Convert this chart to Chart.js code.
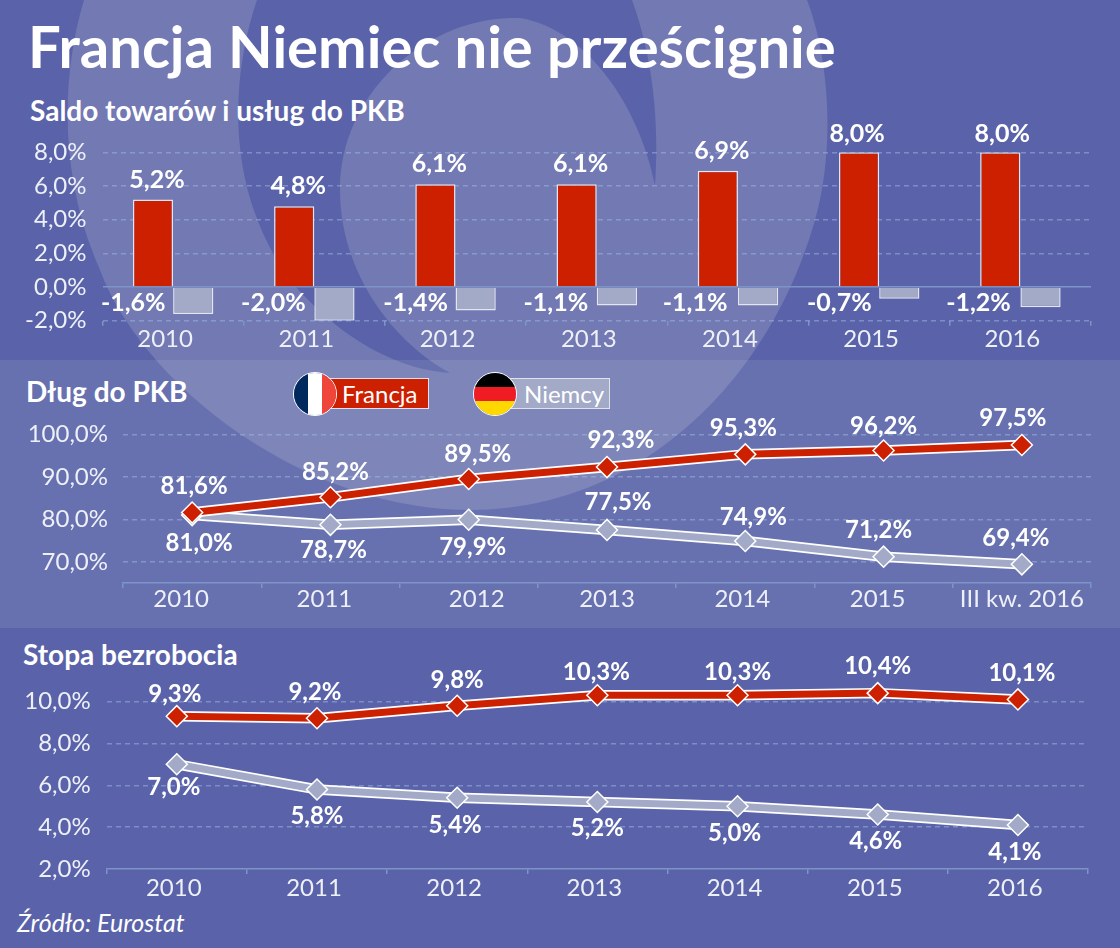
<!DOCTYPE html>
<html lang="pl"><head><meta charset="utf-8">
<script src="https://cdn.jsdelivr.net/npm/chart.js@4"></script>
<style>
html,body{margin:0;padding:0;background:#5A63A9;overflow:hidden}
#page{position:relative;width:1120px;height:948px;overflow:hidden;font-family:Lato,sans-serif;color:#fff}
#bg{position:absolute;left:0;top:0}
canvas{position:absolute;left:0}
.t{position:absolute;white-space:nowrap;line-height:1}
.box{position:absolute;top:378px;height:29px;border:1px solid #dfe2ee;font-size:24px;line-height:29px;box-sizing:content-box}
.flag{position:absolute;top:372px;width:42px;height:42px;border-radius:50%;border:1.5px solid #fff;overflow:hidden;display:flex}
.flag.h{flex-direction:column}
.flag i{display:block;flex:1}
</style></head><body>
<div id="page">
<svg id="bg" width="1120" height="948" viewBox="0 0 1120 948">
<rect width="1120" height="948" fill="#5A63A9"/>
<path fill="#7279B3" d="M84,0 C60,80 60,180 100,270 C140,380 300,510 470,510 C640,510 770,380 815,220 C835,150 830,60 807,0 Z"/>
<path fill="#5A63A9" d="M257,0 C230,80 225,190 290,280 C340,340 400,370 450,373 C390,340 340,270 340,190 C340,90 430,15 520,18 C590,30 640,110 655,185 C660,110 650,50 632,0 Z"/>
<rect y="360" width="1120" height="268" fill="#fff" fill-opacity="0.09"/>
</svg>
<div class="t" style="left:28px;top:17px;font-size:58px;font-weight:700">Francja Niemiec nie prześcignie</div>
<div class="t" style="left:30px;top:96px;font-size:28px;font-weight:700">Saldo towarów i usług do PKB</div>
<div class="t" style="left:26px;top:377px;font-size:28px;font-weight:700">Dług do PKB</div>
<div class="t" style="left:23px;top:640px;font-size:28px;font-weight:700">Stopa bezrobocia</div>
<div class="t" style="left:17px;top:910px;font-size:25px;font-style:italic">Źródło: Eurostat</div>
<div class="box" id="lgF" style="left:325px;width:102px;background:#CC2000;padding-left:0"><span style="margin-left:16px"></span></div>
<div class="flag" style="left:293px"><i style="background:#002A5E"></i><i style="background:#fff"></i><i style="background:#F0453A"></i></div>
<div class="box" id="lgD" style="left:505px;width:103px;background:#A2AAC7"><span style="margin-left:18px"></span></div>
<div class="flag h" style="left:473px"><i style="background:#000"></i><i style="background:#EF1C24"></i><i style="background:#FFD800"></i></div>
<canvas id="c1" width="1120" height="260" style="top:100px"></canvas>
<canvas id="c2" width="1120" height="220" style="top:405px"></canvas>
<canvas id="c3" width="1120" height="255" style="top:650px"></canvas>
</div>
<script>
const seriesNames = ['Francja', 'Niemcy'];
const years = ['2010','2011','2012','2013','2014','2015','2016'];
const debtPeriods = ['2010','2011','2012','2013','2014','2015','III kw. 2016'];

const balanceFrance = [5.2, 4.8, 6.1, 6.1, 6.9, 8.0, 8.0];
const balanceGermany = [-1.6, -2.0, -1.4, -1.1, -1.1, -0.7, -1.2];
const debtFrance = [81.6, 85.2, 89.5, 92.3, 95.3, 96.2, 97.5];
const debtGermany = [81.0, 78.7, 79.9, 77.5, 74.9, 71.2, 69.4];
const unempFrance = [9.3, 9.2, 9.8, 10.3, 10.3, 10.4, 10.1];
const unempGermany = [7.0, 5.8, 5.4, 5.2, 5.0, 4.6, 4.1];

const RED='#CC2000', GREY='#A2AAC7', TICK='#EEF0F8';
const GRID='rgba(165,195,235,0.45)', AXIS='#7C94C8';
const pct = v => v.toFixed(1).replace('.',',')+'%';
document.querySelector('#lgF span').textContent = seriesNames[0];
document.querySelector('#lgD span').textContent = seriesNames[1];

/* value labels: one offset pair per point */
const valueLabels = {
  id:'valueLabels',
  afterDatasetsDraw(chart,_,o){
    const ctx=chart.ctx;
    ctx.save();
    ctx.fillStyle='#fff'; ctx.font='700 '+(o.size||24)+'px Lato'; ctx.textAlign='center'; ctx.textBaseline='middle';
    o.sets.forEach((s,d)=>{
      const pts=chart.getDatasetMeta(d).data, vals=chart.data.datasets[d].data;
      pts.forEach((p,i)=>{
        const x=p.x+s.dx[i];
        const y=s.fromBase? chart.scales.y.getPixelForValue(0)+s.dy[i] : p.y+s.dy[i];
        ctx.fillText(pct(vals[i]),x,y);
      });
    });
    ctx.restore();
  }
};
/* white casing under each line */
const casing = {
  id:'casing',
  beforeDatasetDraw(chart,args,o){
    if(!o.width) return;
    const pts=args.meta.data, ctx=chart.ctx;
    ctx.save();
    ctx.strokeStyle=o.color; ctx.lineWidth=o.width; ctx.lineJoin='round';
    ctx.beginPath();
    pts.forEach((p,i)=> i? ctx.lineTo(p.x,p.y):ctx.moveTo(p.x,p.y));
    ctx.stroke();
    ctx.restore();
  }
};
/* per-label horizontal nudges of the category labels */
const labelNudge = {
  id:'labelNudge',
  beforeDraw(chart,_,o){
    if(!o.dx || chart.$nudged) return;
    chart.scales.x.getLabelItems(chart.chartArea).forEach((it,i)=>{ it.options.translation[0]+=o.dx[i]; });
    chart.$nudged=true;
  }
};

function baseOptions(a,yo,xo,plug){
  const h=a.h;
  return {
    responsive:false, animation:false, devicePixelRatio:1,
    events:[],
    layout:{padding:{top:a.top-a.canvasTop,right:1120-a.right,left:0,bottom:0}},
    plugins:{legend:{display:false},tooltip:{enabled:false},title:{display:false},...plug},
    scales:{
      x:{
        type:'category', offset:true,
        afterFit(s){ s.height=h-(a.bottom-a.canvasTop); },
        grid:{display:true,offset:true,drawOnChartArea:false,drawTicks:true,tickLength:5,color:AXIS,lineWidth:1.5},
        border:xo.border,
        ticks:{color:TICK,font:{family:'Lato',size:24},padding:xo.padding,labelOffset:xo.labelOffset||0,autoSkip:false,maxRotation:0}
      },
      y:{
        min:yo.min,max:yo.max,
        afterFit(s){ s.width=a.left; },
        afterBuildTicks(s){ s.ticks=yo.values.map(value=>({value})); },
        grid:{drawTicks:false,lineWidth:1.5,color:yo.gridColor||GRID},
        border:{display:false,dash:yo.dash||[5,4]},
        ticks:{stepSize:yo.step,color:TICK,font:{family:'Lato',size:24},padding:yo.padding,callback:v=>pct(v)}
      }
    }
  };
}
function lineSet(data,color){
  return {data,borderColor:color,borderWidth:7,tension:0,clip:false,pointStyle:'rectRot',pointRadius:10.5,
    pointBackgroundColor:color,pointBorderColor:'#fff',pointBorderWidth:1.5};
}

new Chart('c1',{
  type:'bar',
  data:{labels:years,datasets:[
    {data:balanceFrance,backgroundColor:RED,borderColor:'#E3E5F0',borderWidth:1.5,borderSkipped:'start',categoryPercentage:0.57,barPercentage:1},
    {data:balanceGermany,backgroundColor:GREY,borderColor:'#E3E5F0',borderWidth:1.5,borderSkipped:'start',categoryPercentage:0.57,barPercentage:1}
  ]},
  plugins:[valueLabels],
  options:baseOptions(
    {canvasTop:100,h:260,top:152.3,bottom:320.7,left:102.5,right:1091},
    {min:-2,max:8,step:2,values:[-2,0,2,4,6,8],padding:16,
     gridColor:c=>c.tick&&c.tick.value===0?AXIS:GRID,
     dash:c=>c.tick&&c.tick.value===0?[]:[5,4]},
    {border:{display:false},padding:-1,labelOffset:-8},
    {valueLabels:{size:25,sets:[
      {dx:[4,4,4,4,4,-2,2],dy:[-20,-20,-20,-20,-20,-18,-18]},
      {dx:[-60,-61,-60,-61,-63,-60,-62],dy:[16,16,16,16,16,16,16],fromBase:true}
    ]}}
  )
});

new Chart('c2',{
  type:'line',
  data:{labels:debtPeriods,datasets:[lineSet(debtFrance,RED),lineSet(debtGermany,GREY)]},
  plugins:[casing,valueLabels,labelNudge],
  options:baseOptions(
    {canvasTop:405,h:220,top:432,bottom:583,left:123,right:1091},
    {min:65,max:100,step:10,values:[70,80,90,100],padding:15},
    {border:{display:true,color:AXIS,width:1.5},padding:-3},
    {casing:{width:10.5,color:'#fff'},labelNudge:{dx:[-11,-6,8,0,-3,-6,0]},
     valueLabels:{sets:[
      {dx:[2,5,9,14,-2,0,-9],dy:[-26,-25,-25,-27,-26,-24,-27]},
      {dx:[7,3,4,11,8,-5,-6],dy:[28,25,28,-28,-24,-26,-26]}
    ]}}
  )
});

new Chart('c3',{
  type:'line',
  data:{labels:years,datasets:[lineSet(unempFrance,RED),lineSet(unempGermany,GREY)]},
  plugins:[casing,valueLabels],
  options:baseOptions(
    {canvasTop:650,h:255,top:701.5,bottom:869,left:106.7,right:1088},
    {min:2,max:10,step:2,values:[2,4,6,8,10],padding:16,
     gridColor:c=>c.tick&&c.tick.value===2?'rgba(0,0,0,0)':GRID},
    {border:{display:true,color:AXIS,width:1.5},padding:0,labelOffset:-3},
    {casing:{width:10.5,color:'#fff'},
     valueLabels:{sets:[
      {dx:[-2,-2,0,-1,0,0,4],dy:[-22,-26,-25,-23,-23,-27,-26]},
      {dx:[-3,0,-2,0,-3,-2,-3],dy:[23,27,27,26,27,27,27]}
    ]}}
  )
});
</script>
</body></html>
